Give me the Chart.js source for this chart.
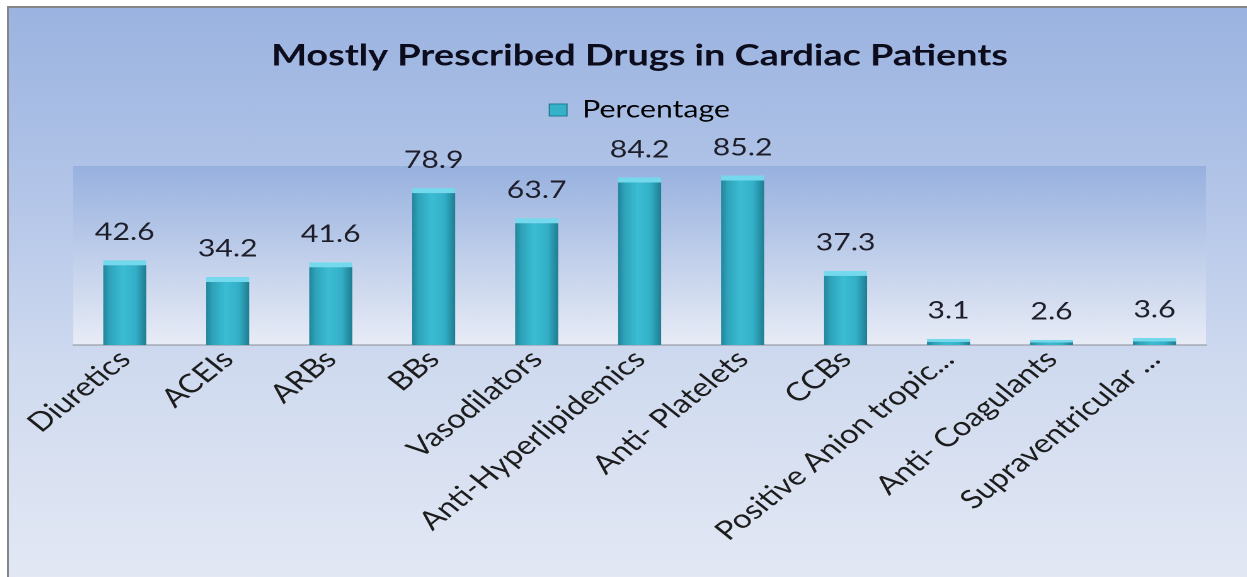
<!DOCTYPE html>
<html><head><meta charset="utf-8">
<script src="https://cdn.jsdelivr.net/npm/chart.js@4"></script>
<style>
html,body{margin:0;padding:0;background:#fff;overflow:hidden;width:1247px;height:577px;}
#frame{position:absolute;left:7px;top:6px;width:1245px;height:575px;border-left:2px solid #868686;border-top:2px solid #868686;
background:linear-gradient(180deg,#9ab3e0 0%,#b3c5e8 33%,#cfdaef 62%,#e3e8f4 100%);}
#wrap{position:absolute;left:0;top:0;width:982px;height:569px;transform:scaleX(1.26);transform-origin:0 0;}
</style></head>
<body><div id="frame"><div id="wrap"><canvas id="c"></canvas></div></div>
<script>
const chartTitle = 'Mostly Prescribed Drugs in Cardiac Patients';
const seriesName = 'Percentage';
const categories = ['Diuretics','ACEIs','ARBs','BBs','Vasodilators','Anti-Hyperlipidemics','Anti- Platelets','CCBs','Positive Anion tropic...','Anti- Coagulants','Supraventricular ...'];
const percentages = [42.6,34.2,41.6,78.9,63.7,84.2,85.2,37.3,3.1,2.6,3.6];
const yMax = 90;

const BAR_FRACTION = 0.42;

const plotBackground = {
  id: 'plotBackground',
  beforeDraw(chart) {
    const {ctx, chartArea: a} = chart;
    const g = ctx.createLinearGradient(0, a.top, 0, a.bottom);
    g.addColorStop(0, '#97b1df');
    g.addColorStop(1, '#e8ecf6');
    ctx.save();
    ctx.fillStyle = g;
    ctx.fillRect(a.left, a.top, a.right - a.left, a.bottom - a.top);
    ctx.restore();
  }
};

const legendGap = {
  id: 'legendGap',
  beforeInit(chart) {
    const orig = chart.legend.fit;
    chart.legend.fit = function () { orig.call(this); this.height += 34; };
  }
};

const valueLabels = {
  id: 'valueLabels',
  afterDatasetsDraw(chart) {
    const {ctx} = chart;
    const meta = chart.getDatasetMeta(0);
    ctx.save();
    ctx.font = '24px Lato';
    ctx.fillStyle = '#1e1e2a';
    ctx.textAlign = 'center';
    ctx.textBaseline = 'middle';
    meta.data.forEach((bar, i) => {
      ctx.fillText(percentages[i].toFixed(1), bar.x, bar.y - 28);
    });
    ctx.restore();
  }
};

function barFill(context) {
  const chart = context.chart;
  if (!chart.chartArea || context.dataIndex === undefined) return '#35b2c9';
  const xs = chart.scales.x;
  const x = xs.getPixelForValue(context.dataIndex);
  const half = (xs.width / categories.length) * BAR_FRACTION / 2;
  const g = chart.ctx.createLinearGradient(x - half, 0, x + half, 0);
  g.addColorStop(0, '#21849a');
  g.addColorStop(0.15, '#2ea3ba');
  g.addColorStop(0.45, '#3bbdd4');
  g.addColorStop(0.75, '#33b0c7');
  g.addColorStop(1, '#1e7c90');
  return g;
}

new Chart(document.getElementById('c'), {
  type: 'bar',
  data: {
    labels: categories,
    datasets: [{
      label: seriesName,
      data: percentages,
      backgroundColor: barFill,
      borderColor: '#74d9ec',
      borderWidth: {top: 5, left: 0, right: 0, bottom: 0},
      barPercentage: BAR_FRACTION,
      categoryPercentage: 1.0
    }]
  },
  options: {
    responsive: true,
    maintainAspectRatio: false,
    animation: false,
    devicePixelRatio: 2,
    layout: {padding: {top: 30, left: 51, right: 32, bottom: 0}},
    plugins: {
      tooltip: {enabled: false},
      title: {
        display: true,
        text: chartTitle,
        color: '#0c0c1c',
        font: {family: 'Lato', size: 30, weight: 'bold'},
        padding: {top: 0, bottom: 14}
      },
      legend: {
        display: true,
        position: 'top',
        labels: {
          color: '#1a1a2a',
          font: {family: 'Lato', size: 24},
          boxWidth: 14,
          boxHeight: 12,
          padding: 10,
          generateLabels(chart) {
            return [{text: chart.data.datasets[0].label, fillStyle: '#35b2c9', strokeStyle: '#1e7c90', lineWidth: 1, datasetIndex: 0, hidden: false}];
          }
        }
      }
    },
    scales: {
      x: {
        grid: {display: false},
        border: {display: true, color: '#8a8e96', width: 1},
        ticks: {
          color: '#1c1c1c',
          font: {family: 'Lato', size: 26},
          maxRotation: 45,
          minRotation: 45,
          autoSkip: false,
          padding: -9
        },
        afterFit(s) { s.height = 232; s.paddingLeft = 0; s.paddingRight = 0; }
      },
      y: {display: false, min: 0, max: yMax}
    }
  },
  plugins: [plotBackground, legendGap, valueLabels]
});
</script>
</body></html>
